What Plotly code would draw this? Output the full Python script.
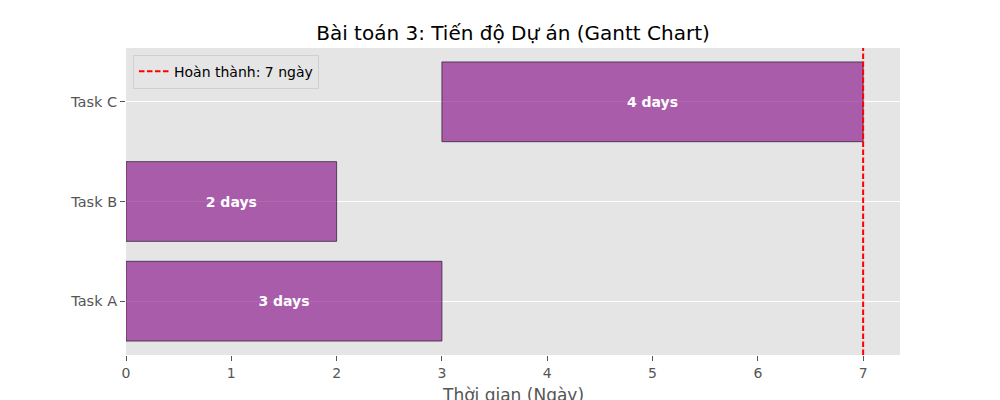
import plotly.graph_objects as go

tasks = ["Task A", "Task B", "Task C"]
starts = [0, 0, 3]
durations = [3, 2, 4]
finish_day = 7
x_ticks = [0, 1, 2, 3, 4, 5, 6, 7]

FONT = "DejaVu Sans"
positions = list(range(len(tasks)))

fig = go.Figure()

# task bars
fig.add_trace(go.Bar(
    y=positions,
    x=durations,
    base=starts,
    orientation="h",
    width=0.8,
    marker=dict(color="rgba(128,0,128,0.6)", line=dict(color="rgba(50,30,50,0.75)", width=1)),
    text=[f"{d} days" for d in durations],
    textposition="inside",
    insidetextanchor="middle",
    textfont=dict(family=FONT, size=14, color="white", weight="bold"),
    showlegend=False,
    hoverinfo="skip",
))

# project completion line
fig.add_trace(go.Scatter(
    x=[finish_day, finish_day],
    y=[-0.54, len(tasks) - 0.46],
    mode="lines",
    line=dict(color="red", width=2, dash="5.5px,2.5px"),
    name=f"Hoàn thành: {finish_day} ngày",
))

fig.update_layout(
    width=1000,
    height=400,
    margin=dict(l=126, r=100, t=48, b=45, autoexpand=False),
    paper_bgcolor="white",
    plot_bgcolor="#E5E5E5",
    font=dict(family=FONT, color="#555555", size=14),
    title=dict(
        text="Bài toán 3: Tiến độ Dự án (Gantt Chart)",
        x=0.513, xanchor="center", y=0.918, yanchor="middle",
        font=dict(family=FONT, size=20, color="black"),
        automargin=False,
    ),
    legend=dict(
        x=0.009, y=0.978, xanchor="left", yanchor="top",
        bgcolor="rgba(229,229,229,0.8)",
        bordercolor="#D0D0D0", borderwidth=1,
        font=dict(family=FONT, size=14, color="black"),
    ),
    bargap=0.2,
)

# x axis title as an annotation so it sits low, like the reference
fig.add_annotation(
    text="Thời gian (Ngày)",
    xref="paper", yref="paper", x=0.5, y=-0.09,
    xanchor="center", yanchor="top", showarrow=False,
    font=dict(family=FONT, size=17, color="#555555"),
)

fig.update_xaxes(
    range=[0, 7.35],
    tickvals=x_ticks,
    showgrid=False,
    zeroline=False,
    automargin=False,
    ticks="outside", ticklen=5, tickcolor="#555555",
    tickfont=dict(size=14, color="#555555"),
)

fig.update_yaxes(
    range=[-0.54, 2.54],
    tickvals=positions,
    ticktext=tasks,
    showgrid=True, gridcolor="white", gridwidth=1,
    zeroline=False,
    automargin=False,
    ticks="outside", ticklen=5, tickcolor="#555555",
    tickfont=dict(size=14.5, color="#555555"),
)

# page body has a default 8px margin; drop it so the figure sits at the corner
fig.write_html(
    "out.html",
    config={"displayModeBar": False},
    post_script="document.body.style.margin='0';",
)
